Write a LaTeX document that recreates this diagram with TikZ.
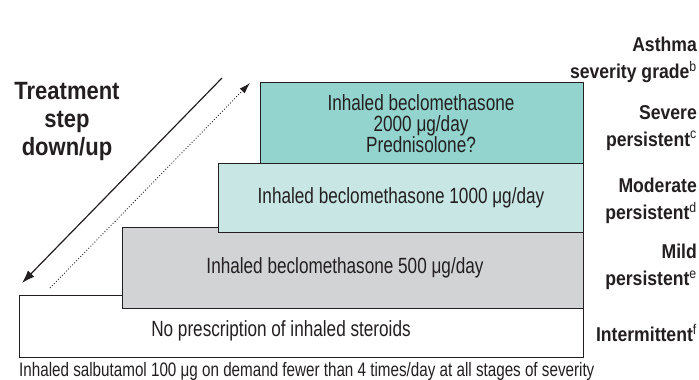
\documentclass[tikz,border=0pt]{standalone}
\usepackage{fontspec}
\setmainfont{Liberation Sans}[FakeStretch=0.78]
\newfontfamily\labfont{Liberation Sans}[FakeStretch=0.88]
\usetikzlibrary{arrows.meta}
\definecolor{sevteal}{RGB}{147,212,207}
\definecolor{modteal}{RGB}{200,231,228}
\definecolor{mildgrey}{RGB}{210,211,213}
\definecolor{inkgrey}{RGB}{35,31,32}
\tikzset{
  stepbox/.style={draw=inkgrey, line width=0.9pt},
  dosetext/.style={text=inkgrey, font=\fontsize{22}{21}\selectfont, align=center},
  gradetext/.style={text=inkgrey, font=\labfont\bfseries\fontsize{20}{27}\selectfont, align=right, anchor=east, inner sep=0pt},
}

\begin{document}
\begin{tikzpicture}[x=1pt, y=-1pt]
  \useasboundingbox (0,0) rectangle (699,380);
  % staircase of treatment steps, lowest first
  \draw[stepbox, fill=white] (19,295) rectangle (583,357);
  \draw[stepbox, fill=mildgrey] (122,227) rectangle (583,308);
  \draw[stepbox, fill=modteal] (218,163) rectangle (583,232);
  \draw[stepbox, fill=sevteal] (260,82) rectangle (583,163);
  \node[dosetext] (sevdose) at (421,124) {Inhaled beclomethasone\\2000 μg/day\\Prednisolone?};
  \node[dosetext] (moddose) at (401,198) {Inhaled beclomethasone 1000 μg/day};
  \node[dosetext] (milddose) at (345,268) {Inhaled beclomethasone 500 μg/day};
  \node[dosetext] (intdose) at (281,331) {No prescription of inhaled steroids};
  \node[text=inkgrey, font=\fontsize{19.5}{20}\selectfont, anchor=base west, inner sep=0pt] (salb) at (19,376)
    {Inhaled salbutamol 100 μg on demand fewer than 4 times/day at all stages of severity};
  % severity grades
  \node[gradetext] (grade) at (697,60) {Asthma\\severity grade\textsuperscript{\mdseries b}};
  \node[gradetext] (severe) at (697,128) {Severe\\persistent\textsuperscript{\mdseries c}};
  \node[gradetext] (moderate) at (697,201) {Moderate\\persistent\textsuperscript{\mdseries d}};
  \node[gradetext] (mild) at (697,267) {Mild\\persistent\textsuperscript{\mdseries e}};
  \node[gradetext] (intermittent) at (697,333) {Intermittent\textsuperscript{\mdseries f}};
  % step down / step up
  \node[text=inkgrey, font=\labfont\bfseries\fontsize{25}{28}\selectfont, align=center] (treat) at (67,121) {Treatment\\step\\down/up};
  \coordinate (downtop) at (222,78);
  \coordinate (downend) at (22,283);
  \coordinate (upstart) at (50,288);
  \coordinate (uptop) at (250,83);
  \draw[inkgrey, line width=1.2pt, -{Latex[length=13pt,width=9pt]}] (downtop) -- (downend);
  \draw[inkgrey, line width=0.9pt, dotted, -{Latex[length=11pt,width=7pt]}] (upstart) -- (uptop);
\end{tikzpicture}
\end{document}
